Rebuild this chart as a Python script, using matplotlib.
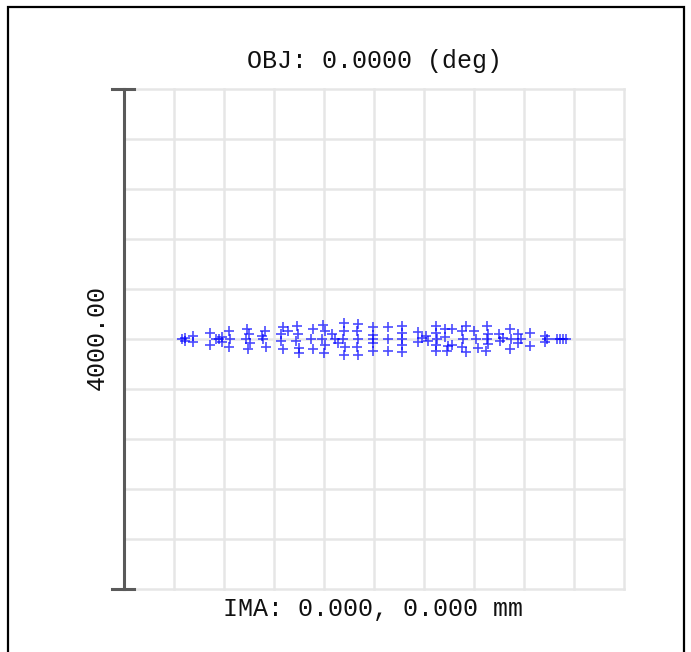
import numpy as np
import matplotlib
matplotlib.use("Agg")
import matplotlib.pyplot as plt
from matplotlib.patches import Rectangle
from matplotlib.lines import Line2D

# Spot positions on the image plane (micrometres, relative to chief ray)
spot_x = [-1536, -1512, -1512, -1448, -1448, -1312, -1312, -1264, -1240, -1216,
          -1216, -1160, -1152, -1160, -1016, -1000, -1024, -992, -1008, -872,
          -888, -864, -896, -728, -744, -744, -728, -688, -616, -608,
          -624, -600, -600, -488, -504, -488, -408, -392, -416, -392,
          -400, -336, -312, -288, -240, -240, -248, -232, -240, -128,
          -136, -128, -136, -128, -8, -8, -8, -8, -8, 112,
          112, 112, 224, 224, 224, 224, 224, 352, 384, 352,
          416, 432, 496, 496, 504, 496, 496, 568, 568, 592,
          584, 624, 624, 704, 712, 704, 736, 736, 800, 816,
          832, 904, 912, 904, 912, 896, 1000, 1008, 1032, 1088,
          1096, 1088, 1152, 1176, 1152, 1248, 1248, 1368, 1368, 1384,
          1464, 1488, 1512, 1536]
spot_y = [0, 8, -16, 24, -24, 48, -48, 0, 0, 16,
          -24, 64, 0, -64, 80, 40, 0, -32, -80, 64,
          0, -64, 24, 96, 40, -16, -80, 64, 104, 40,
          -16, -72, -112, 80, 0, -80, 112, 64, 0, -48,
          -112, 40, 0, -32, 128, 64, 0, -64, -128, 120,
          64, 0, -64, -128, 96, 32, 0, -32, -96, 96,
          0, -96, 104, 48, 0, -48, -104, 56, 8, -24,
          24, -16, 104, 48, 0, -48, -96, 80, 16, -56,
          -96, 80, -48, 64, 0, -64, 104, -104, 64, 0,
          -72, 104, 40, 0, -40, -96, 40, -16, 8, 80,
          0, -80, 40, 0, -32, 48, -56, 24, -24, 0,
          0, 0, 0, 0]

box_size = 4000.0          # full width of the plot box, micrometres
title_text = "OBJ: 0.0000 (deg)"
bottom_text = "IMA: 0.000, 0.000 mm"
scale_text = "4000.00"

W, H = 691, 652
fig = plt.figure(figsize=(W / 100, H / 100), dpi=100)
fig.patch.set_facecolor("white")

# plot box: 500 x 500 px, left edge at x=124, top at y=89
ax = fig.add_axes([124 / W, (H - 589) / H, 500 / W, 500 / H])
half = box_size / 2
ax.set_xlim(-half, half)
ax.set_ylim(-half, half)
ax.axis("off")

grid_col = "#e6e6e6"
for g in np.linspace(-half, half, 11):
    ax.axvline(g, color=grid_col, lw=1.8, zorder=0, clip_on=False)
    ax.axhline(g, color=grid_col, lw=1.8, zorder=0, clip_on=False)

ax.plot(spot_x, spot_y, linestyle="none", marker="+", ms=7, mew=1.2,
        color="#0000ff", alpha=0.7, zorder=3)

# scale bar on the left edge
bar_col = "#5a5a5a"
ax.add_line(Line2D([-half, -half], [-half, half], color=bar_col, lw=2.2,
                   clip_on=False, zorder=4))
for yy in (-half, half):
    ax.add_line(Line2D([-half - 96, -half + 80], [yy, yy], color=bar_col,
                       lw=2.2, clip_on=False, zorder=4))

mono = ["Liberation Mono", "DejaVu Sans Mono"]
fig.text(374 / W, 1 - 61 / H, title_text, family=mono, fontsize=18,
         ha="center", va="center", color="#111111")
fig.text(373 / W, 1 - 609 / H, bottom_text, family=mono, fontsize=18,
         ha="center", va="center", color="#111111")
fig.text(97 / W, 1 - 338 / H, scale_text, family=mono, fontsize=18,
         rotation=90, ha="center", va="center", color="#111111")

# outer frame of the plot window
fig.patches.append(Rectangle((8 / W, -0.02), (684 - 8) / W, 1.02 - 7 / H,
                             transform=fig.transFigure, fill=False,
                             edgecolor="black", lw=1.6))

fig.savefig("out.png", dpi=100)
